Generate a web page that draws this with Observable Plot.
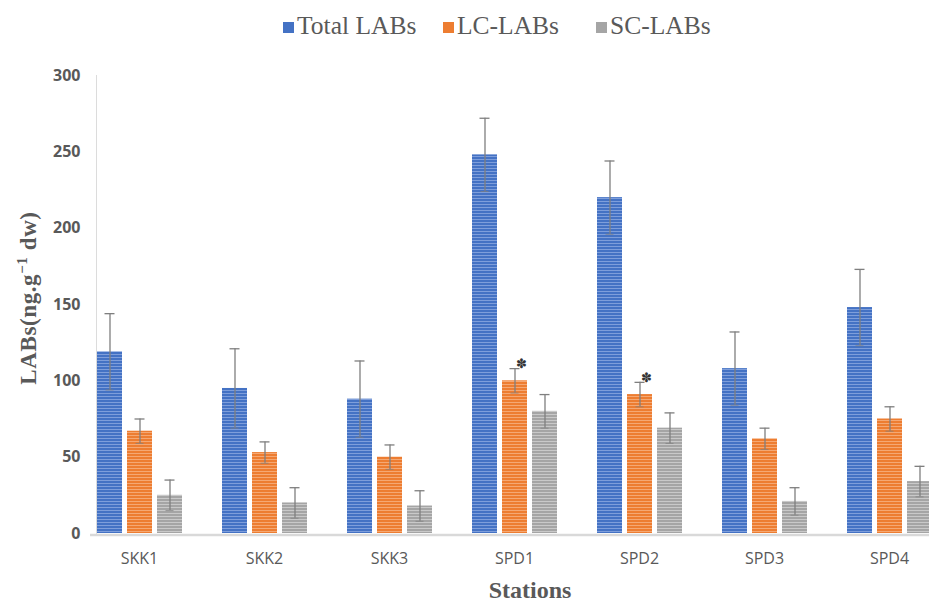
<!DOCTYPE html>
<html><head><meta charset="utf-8">
<script src="https://cdn.jsdelivr.net/npm/d3@7"></script>
<script src="https://cdn.jsdelivr.net/npm/@observablehq/plot@0.6"></script>
<style>
html,body{margin:0;padding:0;background:#fff;}
#wrap{position:relative;width:929px;height:604px;overflow:hidden;background:#fff;}
#legend{position:relative;height:55px;font-family:"Liberation Serif",serif;font-size:25.5px;color:#595959;}
.sw{position:absolute;width:11px;height:11px;top:22px;}
.lt{position:absolute;top:13px;line-height:1;white-space:nowrap;}
#ytitle{position:absolute;left:28px;top:298px;transform:translate(-50%,-50%) rotate(-90deg);font-family:"Liberation Serif",serif;font-weight:bold;font-size:23px;letter-spacing:0.6px;color:#595959;white-space:nowrap;}
#ytitle sup{font-size:0.65em;}
#xtitle{position:absolute;left:530px;top:577px;transform:translateX(-50%);font-family:"Liberation Serif",serif;font-weight:bold;font-size:24px;color:#595959;white-space:nowrap;}
</style></head>
<body>
<div id="wrap">
  <div id="legend">
    <span class="sw" style="left:283px;background:#4472C4"></span><span class="lt" style="left:297px">Total LABs</span>
    <span class="sw" style="left:443px;background:#ED7D31"></span><span class="lt" style="left:457px">LC-LABs</span>
    <span class="sw" style="left:596px;background:#A5A5A5"></span><span class="lt" style="left:610px">SC-LABs</span>
  </div>
  <div id="chart"></div>
  <div id="ytitle">LABs(ng.g<sup>−1</sup> dw)</div>
  <div id="xtitle">Stations</div>
</div>
<script>
const stations = ["SKK1","SKK2","SKK3","SPD1","SPD2","SPD3","SPD4"];
const series = ["Total LABs","LC-LABs","SC-LABs"];
const total    = [119, 95, 88, 248, 220, 108, 148];
const totalErr = [25, 26, 25, 24, 24, 24, 25];
const lc       = [67, 53, 50, 100, 91, 62, 75];
const lcErr    = [8, 7, 8, 8, 8, 7, 8];
const sc       = [25, 20, 18, 80, 69, 21, 34];
const scErr    = [10, 10, 10, 11, 10, 9, 10];
const starred  = ["SPD1","SPD2"];
const yTicks   = [0, 50, 100, 150, 200, 250, 300];

const rows = [];
stations.forEach((s, i) => {
  rows.push({station: s, series: "Total LABs", value: total[i], err: totalErr[i]});
  rows.push({station: s, series: "LC-LABs", value: lc[i], err: lcErr[i]});
  rows.push({station: s, series: "SC-LABs", value: sc[i], err: scErr[i]});
});
const stars = rows.filter(d => d.series === "LC-LABs" && starred.includes(d.station));
const fills = {"Total LABs": "url(#pTotal)", "LC-LABs": "url(#pLC)", "SC-LABs": "url(#pSC)"};
const errStroke = "#7f7f7f";

const chart = Plot.plot({
  width: 929, height: 520,
  marginTop: 20, marginBottom: 42, marginLeft: 75, marginRight: 0,
  style: {color: "#595959", background: "#fff"},
  fx: {domain: stations, range: [75, 953], paddingInner: 0.31, paddingOuter: 0.155},
  x: {domain: series, paddingInner: 0.18, paddingOuter: 0, axis: null},
  y: {domain: [0, 300]},
  marks: [
    Plot.frame({anchor: "left", stroke: "#dcdcdc", facetAnchor: "left"}),
    ...series.map(s => Plot.barY(rows.filter(d => d.series === s), {fx: "station", x: "series", y: "value", fill: fills[s]})),
    Plot.ruleX(rows, {fx: "station", x: "series", y1: d => d.value - d.err, y2: d => d.value + d.err, stroke: errStroke, strokeWidth: 1.3}),
    Plot.tickY(rows, {fx: "station", x: "series", y: d => d.value + d.err, insetLeft: 7.5, insetRight: 7.5, stroke: errStroke, strokeWidth: 1.3}),
    Plot.tickY(rows, {fx: "station", x: "series", y: d => d.value - d.err, insetLeft: 8.5, insetRight: 8.5, stroke: errStroke, strokeWidth: 1, strokeOpacity: 0.7}),
    Plot.text(stars, {fx: "station", x: "series", y: d => d.value + d.err, text: () => "✽", dx: 6, dy: -5, fontSize: 13, fill: "#333"}),
    Plot.axisY({ticks: yTicks, tickSize: 0, tickPadding: 16, fontSize: 16, fontWeight: "bold", fontFamily: "Open Sans", label: null}),
    Plot.axisFx({anchor: "bottom", tickSize: 0, tickPadding: 19, fontSize: 16, fontFamily: "Open Sans", label: null})
  ]
});

const svg = d3.select(chart);
const defs = svg.insert("defs", ":first-child");
function stripe(id, main, light) {
  const p = defs.append("pattern").attr("id", id).attr("patternUnits", "userSpaceOnUse")
    .attr("width", 6).attr("height", 3);
  p.append("rect").attr("width", 6).attr("height", 3).attr("fill", main);
  p.append("rect").attr("y", 2).attr("width", 6).attr("height", 1).attr("fill", light);
}
stripe("pTotal", "#4472C4", "#7e9edb");
stripe("pLC", "#ED7D31", "#f5a873");
stripe("pSC", "#A5A5A5", "#c9c9c9");

const y0 = chart.scale("y").apply(0);
svg.append("line").attr("x1", 90).attr("x2", 929).attr("y1", y0 + 2).attr("y2", y0 + 2)
  .attr("stroke", "#d9d9d9").attr("stroke-width", 2.5);

document.getElementById("chart").appendChild(chart);
</script>
</body></html>
